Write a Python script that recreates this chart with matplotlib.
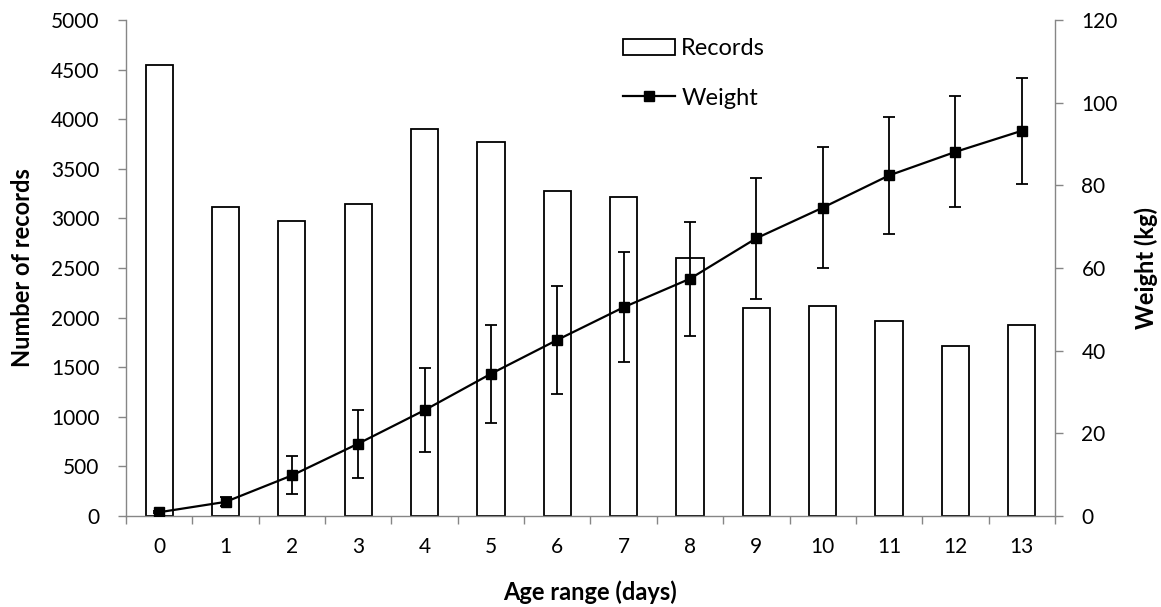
import matplotlib
matplotlib.use("Agg")
import matplotlib.pyplot as plt
from matplotlib.ticker import FixedLocator, NullFormatter
from matplotlib.lines import Line2D
from matplotlib.patches import Patch
import numpy as np

plt.rcParams['font.family'] = ['Lato', 'DejaVu Sans']

ages = ["0", "1", "2", "3", "4", "5", "6", "7", "8", "9", "10", "11", "12", "13"]
records = [4546, 3112, 2974, 3145, 3898, 3770, 3280, 3216, 2597, 2100, 2120, 1962, 1714, 1922]
weight = [0.9, 3.4, 9.8, 17.5, 25.6, 34.4, 42.6, 50.5, 57.4, 67.2, 74.6, 82.4, 88.1, 93.2]
weight_err = [0.3, 1.1, 4.6, 8.2, 10.2, 11.9, 13.0, 13.3, 13.8, 14.6, 14.7, 14.2, 13.4, 12.8]

gray = '#868686'
TICK_FS = 15
LABEL_FS = 17

fig = plt.figure(figsize=(11.61, 6.07), dpi=100)
ax = fig.add_axes([0.1085, 0.150, 0.8002, 0.817])
x = np.arange(len(ages))
ax.bar(x, records, width=0.41, color='white', edgecolor='black', linewidth=1.3, zorder=2)
ax.set_xlim(-0.5, len(ages) - 0.5)
ax.set_ylim(0, 5000)
ax.set_yticks(np.arange(0, 5001, 500))
ax.set_xticks(x)
ax.set_xticklabels(ages)
ax.xaxis.set_minor_locator(FixedLocator(np.arange(-0.5, len(ages), 1.0)))
ax.xaxis.set_minor_formatter(NullFormatter())
ax.tick_params(axis='x', which='major', length=0, pad=15, labelsize=TICK_FS)
ax.tick_params(axis='x', which='minor', length=6, color=gray, width=1.0, direction='out')
ax.tick_params(axis='y', length=6, color=gray, width=1.0, direction='out', labelsize=TICK_FS, pad=13)
ax.spines['top'].set_visible(False)
ax.spines['right'].set_visible(False)
for s in ['left', 'bottom']:
    ax.spines[s].set_color(gray)
    ax.spines[s].set_linewidth(1.0)
ax.set_ylabel('Number of records', fontsize=LABEL_FS, fontweight='bold', labelpad=12)
ax.set_xlabel('Age range (days)', fontsize=LABEL_FS, fontweight='bold', labelpad=17)

ax2 = ax.twinx()
ax2.errorbar(x, weight, yerr=weight_err, color='black', linewidth=1.6, marker='s', markersize=7,
             capsize=4, elinewidth=1.3, capthick=1.3, zorder=3)
ax2.set_ylim(0, 120)
ax2.set_yticks(np.arange(0, 121, 20))
ax2.tick_params(axis='y', length=6, color=gray, width=1.0, direction='out', labelsize=TICK_FS, pad=13)
for s in ['top', 'left', 'bottom']:
    ax2.spines[s].set_visible(False)
ax2.spines['right'].set_color(gray)
ax2.spines['right'].set_linewidth(1.0)
ax2.set_ylabel('Weight (kg)', fontsize=LABEL_FS, fontweight='bold', labelpad=12)

handles = [Patch(facecolor='white', edgecolor='black', linewidth=1.3),
           Line2D([0], [0], color='black', linewidth=1.6, marker='s', markersize=7)]
fig.legend(handles, ['Records', 'Weight'], loc='upper left', bbox_to_anchor=(0.537, 0.937),
           frameon=False, fontsize=LABEL_FS, handlelength=2.2, handletextpad=0.25, labelspacing=1.2,
           borderaxespad=0, borderpad=0)

fig.savefig('out.png', dpi=100)
